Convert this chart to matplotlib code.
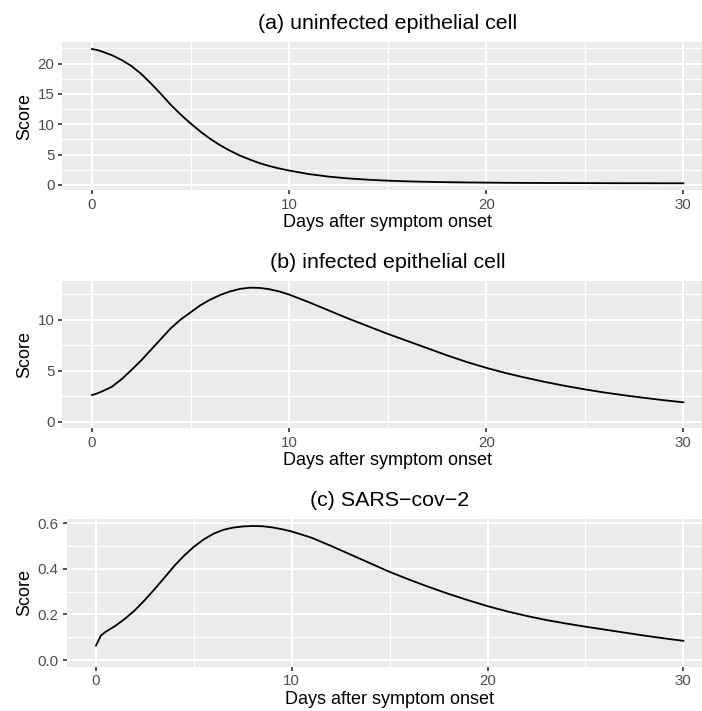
import matplotlib
matplotlib.use("Agg")
from matplotlib import pyplot as plt
from matplotlib.ticker import MultipleLocator, FormatStrFormatter
import numpy as np

plt.rcParams['font.family'] = ['Liberation Sans', 'DejaVu Sans']

days = [0, 0.25, 0.5, 1, 1.5, 2, 2.5, 3, 3.5, 4, 4.5, 5, 5.5, 6, 6.5, 7, 7.5,
        8, 8.5, 9, 9.5, 10, 11, 12, 13, 14, 15, 16, 17, 18, 19, 20, 21, 22,
        23, 24, 25, 26, 27, 28, 29, 30]

uninfected = [22.4, 22.25, 22.0, 21.4, 20.6, 19.6, 18.3, 16.7, 15.0, 13.2,
              11.6, 10.15, 8.8, 7.6, 6.55, 5.65, 4.85, 4.2, 3.6, 3.12, 2.72,
              2.38, 1.8, 1.38, 1.08, 0.87, 0.71, 0.6, 0.52, 0.46, 0.42, 0.39,
              0.36, 0.34, 0.33, 0.32, 0.31, 0.30, 0.29, 0.29, 0.28, 0.28]

infected = [2.6, 2.75, 2.95, 3.4, 4.15, 5.05, 6.0, 7.05, 8.1, 9.15, 10.0,
            10.7, 11.4, 11.95, 12.4, 12.75, 13.0, 13.12, 13.1, 12.97, 12.75,
            12.45, 11.7, 10.9, 10.1, 9.35, 8.6, 7.9, 7.2, 6.5, 5.85, 5.27,
            4.75, 4.3, 3.88, 3.5, 3.16, 2.85, 2.58, 2.33, 2.1, 1.89]

sars = [0.063, 0.107, 0.124, 0.150, 0.182, 0.219, 0.263, 0.311, 0.361, 0.412,
        0.457, 0.496, 0.528, 0.553, 0.57, 0.58, 0.585, 0.587, 0.586, 0.581,
        0.573, 0.563, 0.536, 0.5, 0.462, 0.424, 0.386, 0.352, 0.32, 0.29,
        0.262, 0.236, 0.213, 0.193, 0.175, 0.16, 0.146, 0.133, 0.12, 0.107,
        0.095, 0.084]

titles = ["(a) uninfected epithelial cell", "(b) infected epithelial cell",
          "(c) SARS\u2212cov\u22122"]

W, H = 702, 711
fig = plt.figure(figsize=(W / 100, H / 100), dpi=100)

# panel boxes in pixels: left, right, top, bottom
boxes = [(62.4, 712.9, 42.3, 190.0),
         (62.4, 712.9, 281.0, 428.3),
         (66.6, 712.7, 519.3, 666.7)]

panels = [
    (uninfected, False, 5, "%d"),
    (infected, True, 5, "%d"),
    (sars, True, 0.2, "%.1f"),
]

for (vals, with_zero, step, fmt), (l, r, t, b), title in zip(panels, boxes, titles):
    ax = fig.add_axes([l / W, 1 - b / H, (r - l) / W, (b - t) / H])
    ax.set_facecolor("#EBEBEB")
    for s in ax.spines.values():
        s.set_visible(False)

    ax.plot(days, vals, color="black", lw=1.3, solid_joinstyle="round")

    lo = min(vals + [0]) if with_zero else min(vals)
    hi = max(vals)
    pad = (hi - lo) * 0.05
    ax.set_ylim(lo - pad, hi + pad)
    ax.set_xlim(-1.5, 31.5)

    ax.xaxis.set_major_locator(MultipleLocator(10))
    ax.xaxis.set_minor_locator(MultipleLocator(5))
    ax.yaxis.set_major_locator(MultipleLocator(step))
    ax.yaxis.set_minor_locator(MultipleLocator(step / 2))
    ax.yaxis.set_major_formatter(FormatStrFormatter(fmt))

    ax.grid(which="major", color="white", lw=1.5)
    ax.grid(which="minor", color="white", lw=0.8)
    ax.set_axisbelow(True)

    ax.tick_params(which="major", length=3.2, width=1.2, color="#333333",
                   labelcolor="#4D4D4D", labelsize=10.8, pad=2.4)
    ax.tick_params(which="minor", length=0)

    ax.set_title(title, fontsize=15.4, pad=9.5)
    ax.set_xlabel("Days after symptom onset", fontsize=13, labelpad=1.5)
    ax.set_ylabel("Score", fontsize=13, labelpad=3)

fig.savefig("out.png", dpi=100)
